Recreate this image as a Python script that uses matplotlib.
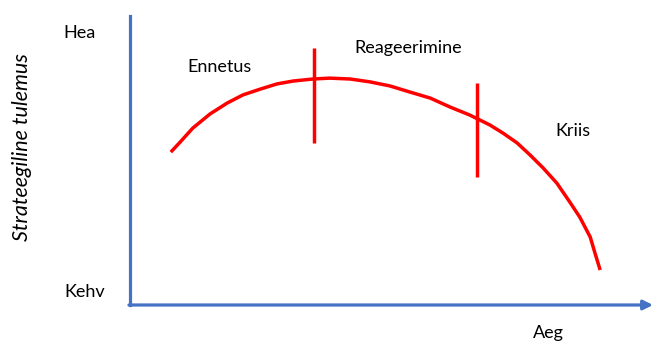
import matplotlib.pyplot as plt

# strategic outcome over time
time = [0.78, 0.96, 1.20, 1.53, 1.86, 2.16, 2.49, 2.81, 3.12, 3.50, 3.82, 4.21, 4.59, 4.97,
        5.35, 5.74, 6.12, 6.50, 6.88, 7.13, 7.40, 7.65, 7.90, 8.16, 8.41, 8.60, 8.80, 8.89, 8.99]
outcome = [5.29, 5.64, 6.12, 6.61, 6.99, 7.27, 7.47, 7.65, 7.75, 7.82, 7.85, 7.82, 7.72, 7.58,
           7.37, 7.16, 6.85, 6.57, 6.23, 5.95, 5.61, 5.19, 4.74, 4.22, 3.56, 3.04, 2.35, 1.80, 1.21]

# phase boundaries: x position, bottom, top
boundary_x = [3.52, 6.63]
boundary_lo = [5.61, 4.43]
boundary_hi = [8.89, 7.68]

phase_names = ['Ennetus', 'Reageerimine', 'Kriis']
phase_x = [1.72, 5.32, 8.47]
phase_y = [8.24, 8.89, 6.02]

blue = '#4472C4'
red = '#FF0000'
plt.rcParams['font.family'] = ['Lato', 'DejaVu Sans']

fig = plt.figure(figsize=(6.53, 3.41), dpi=100)
ax = fig.add_axes([130 / 653, 36 / 341, 523 / 653, 289 / 341])
ax.set_xlim(0, 10)
ax.set_ylim(0, 10)

for side in ['top', 'right', 'bottom']:
    ax.spines[side].set_visible(False)
ax.spines['left'].set_color(blue)
ax.spines['left'].set_linewidth(2.3)
ax.set_xticks([])
ax.set_yticks([])

# x axis with arrow head
ax.annotate('', xy=(10.0, 0), xytext=(-0.02, 0), annotation_clip=False,
            arrowprops=dict(arrowstyle='-|>', color=blue, lw=2.3, mutation_scale=14,
                            shrinkA=0, shrinkB=0))

ax.plot(time, outcome, color=red, lw=2.5, solid_capstyle='butt',
        solid_joinstyle='round', clip_on=False)
ax.vlines(boundary_x, boundary_lo, boundary_hi, color=red, lw=2.5)

for name, x, y in zip(phase_names, phase_x, phase_y):
    ax.text(x, y, name, ha='center', va='center', fontsize=13)

ax.text(-0.96, 9.41, 'Hea', ha='center', va='center', fontsize=13, clip_on=False)
ax.text(-0.86, 0.45, 'Kehv', ha='center', va='center', fontsize=13, clip_on=False)
ax.text(8.0, -0.97, 'Aeg', ha='center', va='center', fontsize=13, clip_on=False)
fig.text(22 / 653, 1 - 147 / 341, 'Strateegiline tulemus', rotation=90, style='italic',
         ha='center', va='center', fontsize=15.5)

fig.savefig('out.png', dpi=100)
